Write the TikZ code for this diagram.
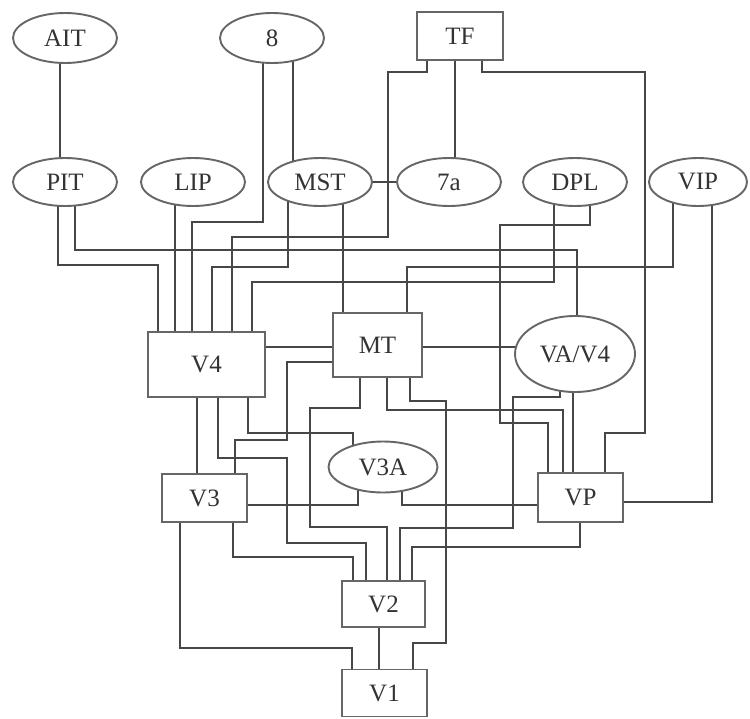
\documentclass[tikz,border=0pt]{standalone}
\usepackage{fontspec}
\setmainfont{Liberation Serif}
\usetikzlibrary{shapes.geometric,backgrounds}
\begin{document}
\begin{tikzpicture}[x=1pt,y=-1pt,
  area/.style={fill=white,draw=black!60,line width=1.9pt,text=black!80,
    font=\fontsize{25}{29}\selectfont,inner sep=0pt},
  oval/.style={area,ellipse,minimum width=104pt,minimum height=48pt},
  box/.style={area,rectangle},
  link/.style={draw=black!72,line width=1.9pt}]
\useasboundingbox (0,0) rectangle (750,718);

% nodes
\node[oval,minimum height=50pt] (AIT) at (65,38) {AIT};
\node[oval,minimum height=50pt] (n8) at (272,38) {8};
\node[box,minimum width=86pt,minimum height=48pt] (TF) at (460,36) {TF};
\node[oval] (PIT) at (65,182) {PIT};
\node[oval] (LIP) at (193,182) {LIP};
\node[oval] (MST) at (320,182) {MST};
\node[oval] (n7a) at (449,182) {7a};
\node[oval] (DPL) at (575,182) {DPL};
\node[oval,minimum width=98pt] (VIP) at (698,182) {VIP};
\node[box,minimum width=117pt,minimum height=65pt] (V4) at (206.5,364.5) {V4};
\node[box,minimum width=89pt,minimum height=64pt] (MT) at (377.5,345) {MT};
\node[oval,minimum width=120pt,minimum height=76pt] (VA) at (575,354) {VA/V4};
\node[oval,minimum width=109pt,minimum height=51pt] (V3A) at (383,467) {V3A};
\node[box,minimum width=85pt,minimum height=48pt] (V3) at (204.5,498) {V3};
\node[box,minimum width=85pt,minimum height=49pt] (VP) at (580.5,497.5) {VP};
\node[box,minimum width=83pt,minimum height=46pt] (V2) at (383.5,604) {V2};
\node[box,minimum width=85pt,minimum height=47pt] (V1) at (384.5,693) {V1};

\begin{pgfonlayer}{background}
% top region
\draw[link] (60,0 |- AIT.center) -- (60,0 |- PIT.center);
\draw[link] (293,0 |- n8.center) -- (293,0 |- MST.center);
\draw[link] (263,0 |- n8.center) -- (263,222) -- (192,222) -- (192,0 |- V4.center);
\draw[link] (455,0 |- TF.center) -- (455,0 |- n7a.center);
\draw[link] (427,0 |- TF.center) -- (427,72) -- (388,72) -- (388,237) -- (232,237) -- (232,0 |- V4.center);
\draw[link] (482,0 |- TF.center) -- (482,72) -- (645,72) -- (645,433) -- (605,433) -- (605,0 |- VP.center);
\draw[link] (MST.center) -- (n7a.center);
% second row to middle
\draw[link] (58,0 |- PIT.center) -- (58,265) -- (158,265) -- (158,0 |- V4.center);
\draw[link] (75,0 |- PIT.center) -- (75,250) -- (577,250) -- (577,0 |- VA.center);
\draw[link] (175,0 |- LIP.center) -- (175,0 |- V4.center);
\draw[link] (288,0 |- MST.center) -- (288,267) -- (212,267) -- (212,0 |- V4.center);
\draw[link] (343,0 |- MST.center) -- (343,0 |- MT.center);
\draw[link] (554,0 |- DPL.center) -- (554,282) -- (252,282) -- (252,0 |- V4.center);
\draw[link] (590,0 |- DPL.center) -- (590,225) -- (500,225) -- (500,423) -- (548,423) -- (548,0 |- VP.center);
\draw[link] (673,0 |- VIP.center) -- (673,267) -- (407,267) -- (407,0 |- MT.center);
\draw[link] (712,0 |- VIP.center) -- (712,502) -- (VP.center |- 0,502);
% middle
\draw[link] (V4.center |- 0,347) -- (MT.center |- 0,347);
\draw[link] (MT.center |- 0,347) -- (VA.center |- 0,347);
\draw[link] (MT.center |- 0,362) -- (287,362) -- (287,440) -- (235,440) -- (235,0 |- V3.center);
\draw[link] (197,0 |- V4.center) -- (197,0 |- V3.center);
\draw[link] (218,0 |- V4.center) -- (218,458) -- (287,458) -- (287,543) -- (366,543) -- (366,0 |- V2.center);
\draw[link] (248,0 |- V4.center) -- (248,433) -- (353,433) -- (353,0 |- V3A.center);
\draw[link] (360,0 |- MT.center) -- (360,408) -- (310,408) -- (310,527) -- (387,527) -- (387,0 |- V2.center);
\draw[link] (387,0 |- MT.center) -- (387,410) -- (563,410) -- (563,0 |- VP.center);
\draw[link] (410,0 |- MT.center) -- (410,401) -- (446,401) -- (446,643) -- (413,643) -- (413,0 |- V1.center);
\draw[link] (573,0 |- VA.center) -- (573,0 |- VP.center);
\draw[link] (560,0 |- VA.center) -- (560,397) -- (513,397) -- (513,528) -- (400,528) -- (400,0 |- V2.center);
% lower
\draw[link] (V3.center |- 0,505) -- (358,505) -- (358,0 |- V3A.center);
\draw[link] (402,0 |- V3A.center) -- (402,505) -- (VP.center |- 0,505);
\draw[link] (233,0 |- V3.center) -- (233,557) -- (353,557) -- (353,0 |- V2.center);
\draw[link] (580,0 |- VP.center) -- (580,547) -- (412,547) -- (412,0 |- V2.center);
\draw[link] (180,0 |- V3.center) -- (180,648) -- (352,648) -- (352,0 |- V1.center);
\draw[link] (379,0 |- V2.center) -- (379,0 |- V1.center);
\end{pgfonlayer}
\end{tikzpicture}
\end{document}
